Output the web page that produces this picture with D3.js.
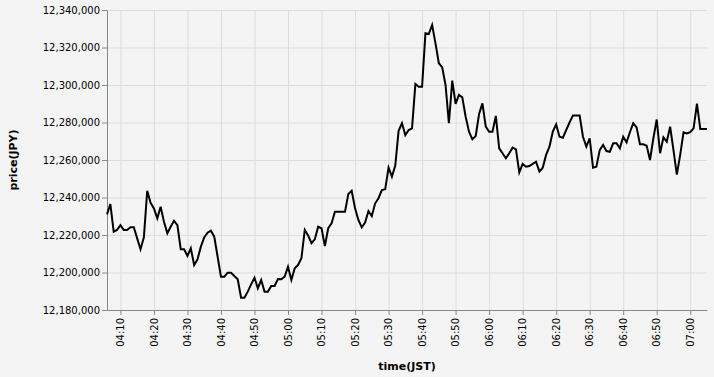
<!DOCTYPE html>
<html>
<head>
  <meta charset="utf-8">
  <style>
    body { margin: 0; background-color: #f4f4f4; }
    svg { display: block; background-color: #f4f4f4; }
    .axis text { font-family: "DejaVu Sans", sans-serif; font-size: 10px; fill: #000; }
    .axis .domain { stroke: #888; }
    .axis .tick line { stroke: #888; }
    .grid line { stroke: #ddd; }
    .title { font-family: "DejaVu Sans", sans-serif; font-size: 11px; font-weight: bold; fill: #000; }
  </style>
</head>
<body>

  <div id="chart_price"></div>

  <script src="https://d3js.org/d3.v7.min.js"></script>
  <script>
    // first sample time, one sample per minute
    var startTime = "04:06";

    // price (JPY) per minute, split by hour
    var pricesH04 = [
      12231000, 12236500, 12221800, 12222700, 12225200, 12222700, 12222700, 12224100, 12224100, 12218200,
      12212400, 12218700, 12243600, 12237200, 12234200, 12228900, 12235100, 12227100, 12220900, 12224400,
      12227600, 12225300, 12212400, 12212400, 12208800, 12212900, 12204000, 12207000, 12213800, 12218700,
      12221200, 12222300, 12219100, 12208400, 12197800, 12197800, 12199900, 12199900, 12198100, 12196400,
      12186600, 12186600, 12189800, 12193700, 12197200, 12191600, 12196000, 12189800, 12189800, 12192800,
      12192800, 12196500, 12196400, 12197800
    ];
    var pricesH05 = [
      12203100, 12196000, 12202200, 12204000, 12207600, 12222700, 12219700, 12215600, 12217700, 12224400,
      12223600, 12214100, 12223600, 12226200, 12232400, 12232400, 12232400, 12232400, 12241900, 12243600,
      12234200, 12228000, 12224100, 12226600, 12232800, 12230100, 12236900, 12239600, 12244000, 12244400,
      12255900, 12251100, 12257000, 12275600, 12279600, 12273300, 12276000, 12276900, 12300500, 12299100,
      12299100, 12327600, 12327200, 12332000, 12322200, 12311600, 12309400, 12300000, 12279600, 12302300,
      12289900, 12294700, 12293400, 12283100, 12275100, 12271000, 12272800, 12284500, 12290200, 12277800
    ];
    var pricesH06 = [
      12275100, 12275100, 12283500, 12266200, 12263600, 12260900, 12263600, 12266600, 12265700, 12253400,
      12257900, 12256400, 12256800, 12257900, 12259100, 12253800, 12255900, 12262700, 12267100, 12275100,
      12279000, 12272400, 12271900, 12276000, 12280100, 12283700, 12283700, 12283700, 12272400, 12267100,
      12271600, 12255900, 12256400, 12265300, 12268000, 12264800, 12264400, 12268900, 12268900, 12266200,
      12272400, 12269400, 12274800, 12279600, 12277400, 12268400, 12268400, 12267600, 12260000, 12271600,
      12281600, 12263600, 12272100, 12269800, 12277800, 12265300, 12252200, 12262700, 12274800, 12274200
    ];
    var pricesH07 = [12274800, 12276900, 12290000, 12276500, 12276500, 12276500];

    var yTicks = [12180000, 12200000, 12220000, 12240000, 12260000, 12280000, 12300000, 12320000, 12340000];
    var yDomain = [12180000, 12340000];
    var xTickMinutes = 10;

    var margin = {top: 10, right: 7, bottom: 67, left: 107};
    var width = 714 - margin.left - margin.right,
        height = 377 - margin.top - margin.bottom;

    var parseTime = d3.timeParse("%Y-%m-%d %H:%M");
    var t0 = parseTime("2021-01-01 " + startTime);
    var prices = pricesH04.concat(pricesH05, pricesH06, pricesH07);
    var data = prices.map((p, i) => ({time: d3.timeMinute.offset(t0, i), price: p}));

    var svg = d3.select("#chart_price")
        .append("svg")
        .attr("width", 714)
        .attr("height", 377)
        .append("g")
        .attr("transform", "translate(" + margin.left + "," + margin.top + ")");

    var x = d3.scaleTime()
        .domain(d3.extent(data, d => d.time))
        .range([0, width]);

    var y = d3.scaleLinear()
        .domain(yDomain)
        .range([height, 0]);

    var xTickValues = x.ticks(d3.timeMinute.every(xTickMinutes));

    // grid
    var grid = svg.append("g").attr("class", "grid");
    grid.selectAll("line.gx")
        .data(xTickValues)
        .enter()
        .append("line")
        .attr("x1", d => x(d) + 0.5)
        .attr("x2", d => x(d) + 0.5)
        .attr("y1", 0)
        .attr("y2", height);
    grid.selectAll("line.gy")
        .data(yTicks)
        .enter()
        .append("line")
        .attr("x1", 0)
        .attr("x2", width)
        .attr("y1", d => y(d) + 0.5)
        .attr("y2", d => y(d) + 0.5);

    // axes
    svg.append("g")
        .attr("class", "x axis")
        .attr("transform", "translate(0," + height + ")")
        .call(d3.axisBottom(x).tickValues(xTickValues).tickFormat(d3.timeFormat("%H:%M")).tickSize(5).tickSizeOuter(0))
        .selectAll("text")
        .style("text-anchor", "end")
        .attr("x", 0)
        .attr("y", 0)
        .attr("dx", "-8")
        .attr("dy", "0.32em")
        .attr("transform", "rotate(-90)");

    svg.append("g")
        .attr("class", "y axis")
        .call(d3.axisLeft(y).tickValues(yTicks).tickFormat(d3.format(",")).tickSize(5).tickSizeOuter(0).tickPadding(2));

    // line
    var line = d3.line()
        .x(d => x(d.time))
        .y(d => y(d.price));

    svg.append("path")
        .datum(data)
        .attr("fill", "none")
        .attr("stroke", "#000")
        .attr("stroke-width", 2)
        .attr("stroke-linejoin", "miter")
        .attr("d", line);

    // titles
    svg.append("text")
        .attr("class", "title")
        .attr("text-anchor", "middle")
        .attr("x", width / 2)
        .attr("y", height + 60)
        .text("time(JST)");

    svg.append("text")
        .attr("class", "title")
        .attr("text-anchor", "middle")
        .attr("transform", "rotate(-90)")
        .attr("x", -height / 2)
        .attr("y", -margin.left + 17)
        .text("price(JPY)");
  </script>

</body>
</html>
